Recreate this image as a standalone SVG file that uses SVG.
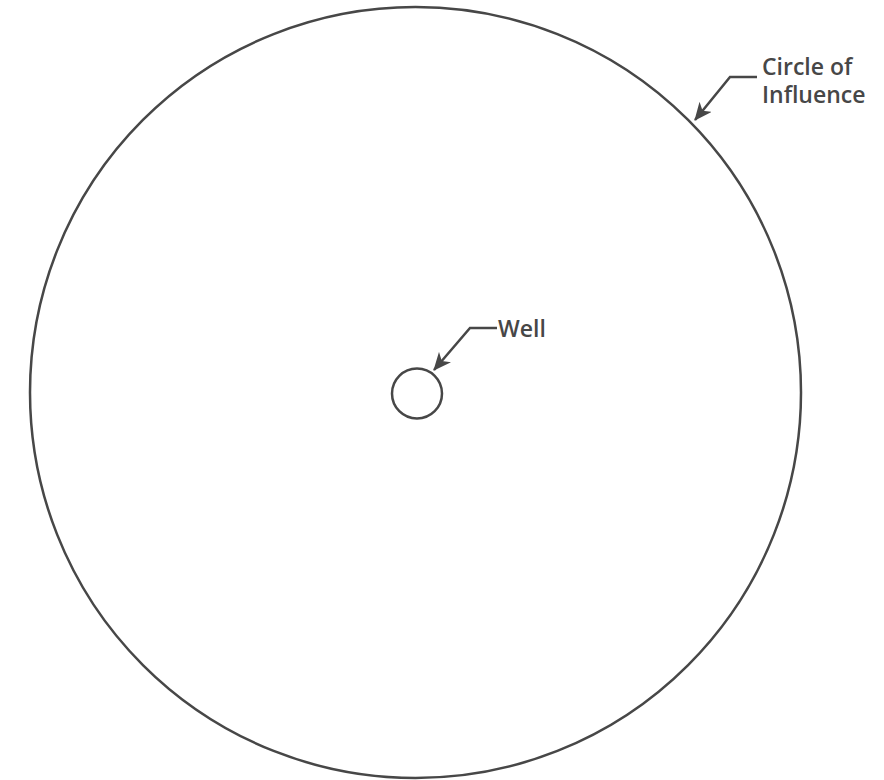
<svg xmlns="http://www.w3.org/2000/svg" width="884" height="780" viewBox="0 0 884 780">
<style>
.ln{fill:none;stroke:#474747;stroke-width:2.5}
.lbl{font-family:"Open Sans","Noto Sans",sans-serif;font-weight:600;font-size:23px;fill:#474747}
</style>
<defs>
<marker id="ah" markerWidth="18" markerHeight="16" refX="17" refY="8" orient="auto" markerUnits="userSpaceOnUse" viewBox="0 0 18 16">
<path d="M0,0 L18,8 L0,16 L5,8 Z" fill="#474747"/>
</marker>
</defs>
<rect width="884" height="780" fill="#fff"/>
<g id="circle-of-influence">
<circle class="ln" cx="415.5" cy="392.5" r="385.5"/>
</g>
<g id="well">
<circle class="ln" cx="417" cy="393.5" r="25"/>
</g>
<g id="connectors">
<path class="ln" d="M757,77 L730,77 L695,120" marker-end="url(#ah)"/>
<path class="ln" d="M497,328 L470,328 L434,370" marker-end="url(#ah)"/>
</g>
<g id="labels">
<text class="lbl" x="762" y="75">Circle of</text>
<text class="lbl" x="762" y="103">Influence</text>
<text class="lbl" x="498" y="337">Well</text>
</g>
</svg>
